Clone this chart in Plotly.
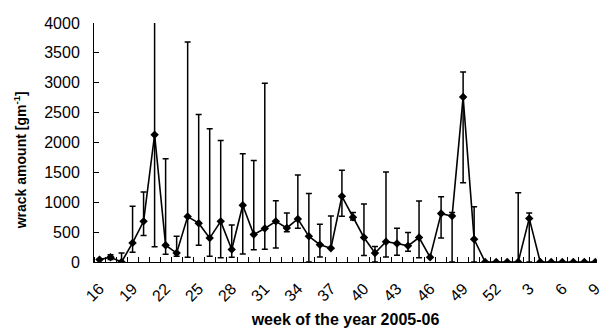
import plotly.graph_objects as go

weeks = [str(w) for w in range(16, 53)] + [str(w) for w in range(1, 10)]
wrack = [40, 80, 0, 320, 680, 2130, 280, 150, 760, 650, 400, 680, 210, 950, 460,
         560, 680, 570, 720, 430, 290, 230, 1100, 750, 410, 150, 340, 310, 270, 410,
         80, 810, 770, 2760, 380, 0, 0, 0, 0, 730, 0, 0, 0, 0, 0, 0]
err_up = [0, 40, 150, 615, 490, 4300, 1450, 283, 2920, 1820, 1830, 1355, 410, 860, 1240,
          2430, 345, 250, 735, 715, 340, 540, 435, 80, 560, 110, 1165, 255, 225, 610,
          0, 280, 60, 420, 545, 0, 0, 0, 1160, 90, 0, 0, 0, 0, 0, 0]
err_down = [0, 40, 0, 155, 235, 1875, 150, 55, 680, 370, 305, 610, 130, 815, 255,
            345, 445, 65, 155, 430, 205, 0, 335, 45, 300, 150, 255, 195, 90, 340,
            0, 410, 770, 1435, 380, 0, 0, 0, 0, 730, 0, 0, 0, 0, 0, 0]

idx = list(range(len(weeks)))
FONT = "Liberation Sans, Arial, sans-serif"

fig = go.Figure(go.Scatter(
    x=idx, y=wrack, mode="lines+markers",
    line=dict(color="black", width=1.6),
    marker=dict(symbol="diamond", size=6.5, color="black"),
    error_y=dict(type="data", symmetric=False, array=err_up, arrayminus=err_down,
                 color="black", thickness=1.5, width=3),
))

fig.update_layout(
    width=603, height=333,
    margin=dict(l=94, r=0, t=23, b=71),
    paper_bgcolor="white", plot_bgcolor="white",
    showlegend=False,
    font=dict(family=FONT, color="black", size=16),
    annotations=[dict(
        text="wrack amount [gm<sup>-1</sup>]", textangle=-90,
        xref="paper", yref="paper", x=-74 / 509, y=0.425,
        xanchor="center", yanchor="middle", showarrow=False,
        font=dict(size=14, weight="bold"),
    )],
)
fig.update_xaxes(
    range=[-0.5, 45.15],
    tickmode="array", tickvals=idx[::3], ticktext=weeks[::3],
    ticks="", tickangle=-45, tickfont=dict(size=16),
    ticklabelstandoff=10, ticklabeloverflow="allow",
    showline=True, linecolor="black", linewidth=1,
    showgrid=False, zeroline=False,
    minor=dict(ticks="inside", tick0=-0.5, dtick=1, ticklen=5, tickcolor="black", showgrid=False),
    title=dict(text="week of the year 2005-06", font=dict(size=16, weight="bold"), standoff=10),
)
fig.update_yaxes(
    range=[0, 4000], dtick=500,
    ticks="inside", ticklen=5, tickcolor="black",
    ticklabelstandoff=10, tickfont=dict(size=16),
    showline=True, linecolor="black", linewidth=1,
    showgrid=False, zeroline=False,
)

fig.write_html("out.html")
